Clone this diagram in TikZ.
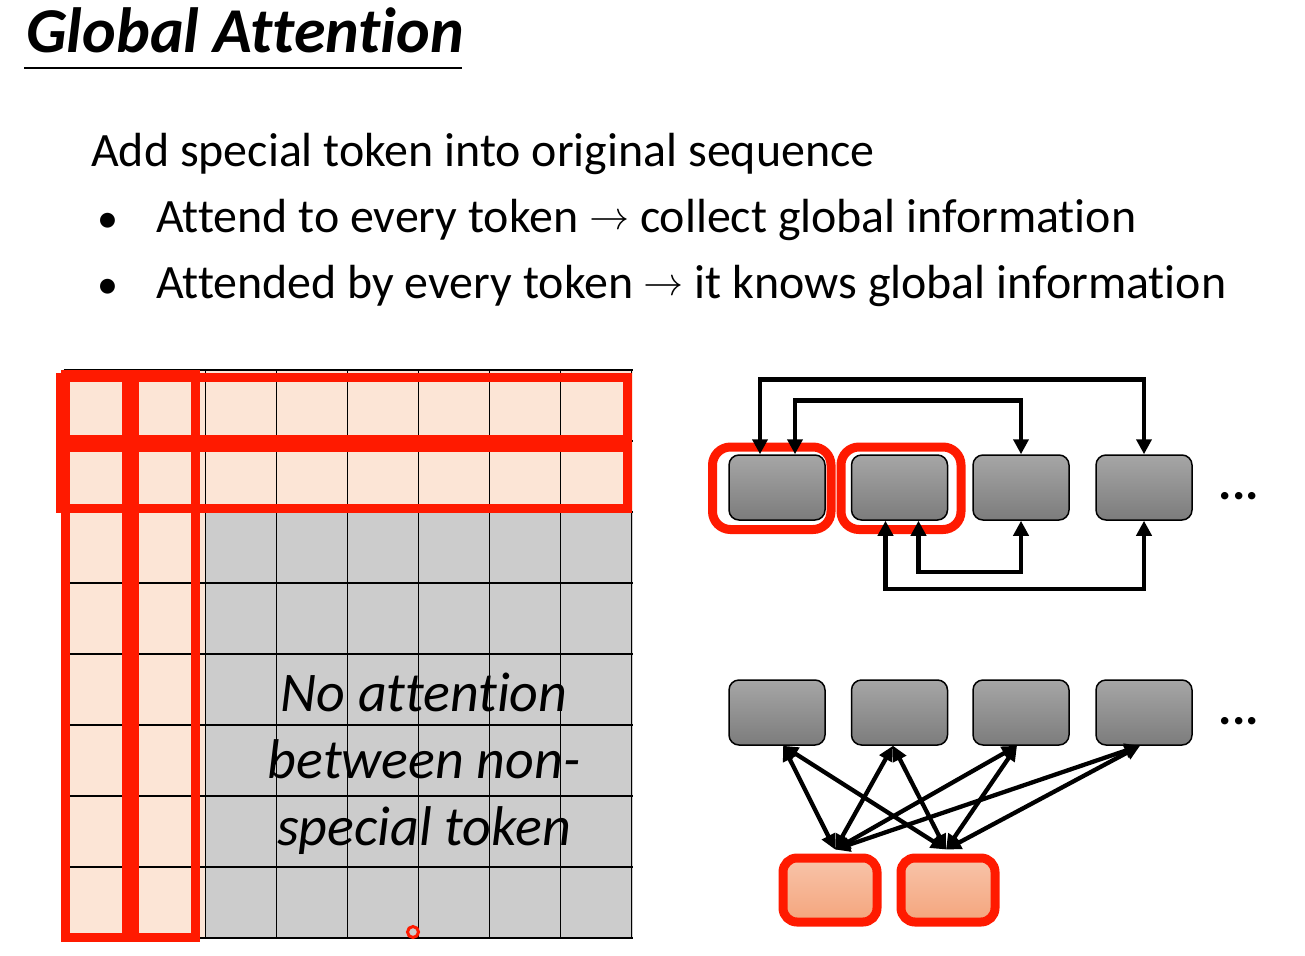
\documentclass[tikz,border=0pt]{standalone}
\usepackage{fontspec}
\setmainfont{Carlito}[Ligatures={NoCommon}]
\newfontfamily\arrowfont{latinmodern-math.otf}
\usetikzlibrary{arrows.meta}
\definecolor{hired}{RGB}{255,26,0}
\definecolor{peach}{RGB}{252,229,214}
\definecolor{cellgray}{RGB}{204,204,204}
\definecolor{boxtop}{RGB}{166,166,166}
\definecolor{boxbot}{RGB}{124,124,124}
\definecolor{salmtop}{RGB}{248,196,170}
\definecolor{salmbot}{RGB}{244,164,124}
\newcommand{\rarr}{\raisebox{3pt}{\arrowfont\fontsize{40}{44}\selectfont →}}
\tikzset{
  bodytext/.style={anchor=base west, inner sep=0pt, font=\fontsize{47.9}{57}\selectfont},
  bullettext/.style={anchor=base, inner sep=0pt, font=\fontsize{42}{50}\selectfont},
  gridtext/.style={anchor=base, inner sep=0pt, font=\fontsize{56}{62}\selectfont\itshape},
  gridline/.style={line width=1.9pt, black},
  redframe/.style={line width=9pt, hired, line join=miter},
  graybox/.style={draw=black, line width=1.5pt, rounded corners=10pt,
    minimum width=96pt, minimum height=65pt, inner sep=0pt,
    top color=boxtop, bottom color=boxbot},
  redring/.style={draw=hired, line width=9pt, rounded corners=18pt, inner sep=0pt},
  salmbox/.style={draw=hired, line width=9pt, rounded corners=14pt,
    minimum width=94pt, minimum height=64pt, inner sep=0pt,
    top color=salmtop, bottom color=salmbot},
  conn/.style={line width=4.5pt, line join=miter,
    {Triangle[length=15pt,width=15pt]}-{Triangle[length=15pt,width=15pt]}},
  link/.style={line width=4.3pt,
    {Triangle[length=15pt,width=14pt]}-{Triangle[length=15pt,width=14pt]}},
  dots/.style={font=\fontsize{50}{54}\selectfont\bfseries, inner sep=0pt, anchor=base}
}
\begin{document}
\begin{tikzpicture}[x=1pt,y=-1pt]
\useasboundingbox (0,0) rectangle (1305,955);

% title
\node[anchor=base west, inner sep=0pt, font=\fontsize{63.9}{70}\selectfont\bfseries\itshape] (title) at (26,53) {Global Attention};
\draw[line width=2pt] (24,68.5) -- (462,68.5);

% text
\node[bodytext] (l0) at (91,166) {Add special token into original sequence};
\node[bullettext] (b1) at (108,232) {•};
\node[bodytext] (l1) at (156,232) {Attend to every token \rarr\ collect global information};
\node[bullettext] (b2) at (108,298) {•};
\node[bodytext] (l2) at (156,298) {Attended by every token \rarr\ it knows global information};

% grid
\fill[peach] (63.5,370) rectangle (632.5,512);
\fill[peach] (63.5,512) rectangle (205.5,938);
\fill[cellgray] (205.5,512) rectangle (632.5,938);
\foreach \i in {0,...,8} {
  \draw[gridline] ({63.5+71*\i},370) -- ({63.5+71*\i},938);
  \draw[gridline] (63.5,{370+71*\i}) -- (632.5,{370+71*\i});
}
\draw[redframe] (65,374.5) rectangle (126,937);
\draw[redframe] (134,374.5) rectangle (195,937);
\draw[redframe] (60.5,377) rectangle (627,439.5);
\draw[redframe] (60.5,447.5) rectangle (627,508.5);

\node[gridtext] (g1) at (424,711) {No attention};
\node[gridtext] (g2) at (424,778) {between non-};
\node[gridtext] (g3) at (424,845) {special token};

% pointer
\draw[hired, line width=3pt] (413,932) circle (5.5);

% top graph
\node[redring, minimum width=118.5pt, minimum height=82.5pt] (r1) at (771.75,488.25) {};
\node[redring, minimum width=120pt, minimum height=82.5pt] (r2) at (901,488.25) {};
\node[graybox] (t1) at (777,487.5) {};
\node[graybox] (t2) at (899.5,487.5) {};
\node[graybox] (t3) at (1021,487.5) {};
\node[graybox] (t4) at (1144,487.5) {};
\node[dots] (d1) at (1239,499) {...};

\draw[conn] ([xshift=-17pt]t1.north) -- ++(0,-75) -| (t4.north);
\draw[conn] ([xshift=18pt]t1.north) -- ++(0,-54) -| (t3.north);
\draw[conn] ([xshift=-14pt]t2.south) -- ++(0,68) -| (t4.south);
\draw[conn] ([xshift=19pt]t2.south) -- ++(0,51) -| (t3.south);

% bottom graph
\node[graybox] (u1) at (777,712.5) {};
\node[graybox] (u2) at (899.5,712.5) {};
\node[graybox] (u3) at (1021,712.5) {};
\node[graybox] (u4) at (1144,712.5) {};
\node[dots] (d2) at (1239,724) {...};
\node[salmbox] (s1) at (830,890) {};
\node[salmbox] (s2) at (948,890) {};

\foreach \u/\dx in {u1/6,u2/-6.5,u3/-4,u4/-4} {
  \draw[link] ([xshift=\dx pt]\u.south) -- ([xshift=5pt,yshift=4pt]s1.north);
  \draw[link] ([xshift=\dx pt]\u.south) -- ([xshift=-2pt,yshift=4pt]s2.north);
}
\end{tikzpicture}
\end{document}
